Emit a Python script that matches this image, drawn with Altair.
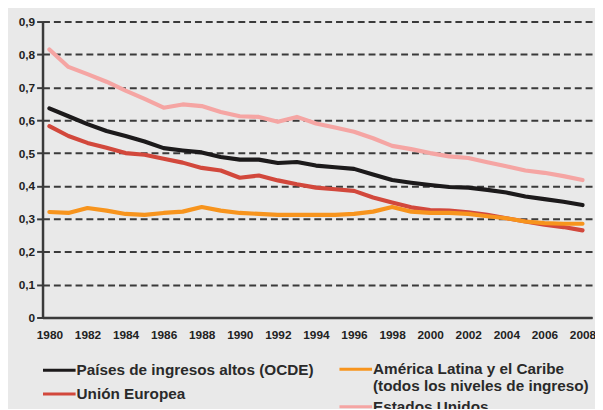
import altair as alt
import pandas as pd

years = list(range(1980, 2009))

ocde = [0.636, 0.612, 0.588, 0.567, 0.552, 0.535, 0.515, 0.508, 0.502, 0.488,
        0.480, 0.480, 0.470, 0.473, 0.462, 0.457, 0.452, 0.435, 0.418, 0.410,
        0.403, 0.397, 0.395, 0.388, 0.380, 0.368, 0.360, 0.352, 0.342]

ue = [0.582, 0.552, 0.531, 0.516, 0.500, 0.495, 0.483, 0.471, 0.455, 0.447,
      0.425, 0.432, 0.417, 0.405, 0.395, 0.390, 0.385, 0.365, 0.350, 0.335,
      0.327, 0.325, 0.320, 0.312, 0.302, 0.292, 0.282, 0.275, 0.265]

amlat = [0.321, 0.318, 0.333, 0.325, 0.315, 0.312, 0.318, 0.322, 0.336, 0.325,
         0.318, 0.315, 0.312, 0.312, 0.312, 0.312, 0.315, 0.322, 0.336, 0.322,
         0.318, 0.318, 0.315, 0.308, 0.302, 0.292, 0.287, 0.285, 0.285]

eeuu = [0.815, 0.762, 0.740, 0.717, 0.690, 0.665, 0.638, 0.648, 0.643, 0.625,
        0.612, 0.610, 0.595, 0.610, 0.590, 0.578, 0.565, 0.545, 0.522, 0.512,
        0.500, 0.490, 0.485, 0.472, 0.460, 0.447, 0.440, 0.430, 0.418]

# legend column 1
names_a = ["Países de ingresos altos (OCDE)", "Unión Europea"]
colors_a = ["#1c1a1b", "#d2483c"]
values_a = [ocde, ue]
# legend column 2
names_b = ["América Latina y el Caribe|(todos los niveles de ingreso)", "Estados Unidos"]
colors_b = ["#f7941d", "#f5a5a3"]
values_b = [amlat, eeuu]

x_ticks = list(range(1980, 2009, 2))
y_ticks = [0, 0.1, 0.2, 0.3, 0.4, 0.5, 0.6, 0.7, 0.8, 0.9]

FONT = "Liberation Sans"


def make_df(names, values):
    rows = []
    for name, vals in zip(names, values):
        for yr, v in zip(years, vals):
            rows.append({"year": yr, "value": v, "serie": name})
    return pd.DataFrame(rows)


x_enc = alt.X(
    "year:Q",
    scale=alt.Scale(domain=[1979.64, 2008.5], nice=False, zero=False),
    axis=alt.Axis(
        values=x_ticks, format="d", title=None, grid=False, ticks=False,
        labelPadding=12, labelFontSize=12, labelFontWeight="bold",
        labelColor="#222222", labelFont=FONT, labelFlush=False,
        domainColor="#3a3a3a", domainWidth=2.5,
    ),
)
y_enc = alt.Y(
    "value:Q",
    scale=alt.Scale(domain=[0, 0.9], nice=False),
    axis=alt.Axis(
        values=y_ticks, title=None, grid=True, gridDash=[7, 4],
        gridColor="#3a3a3a", gridWidth=2, tickSize=6, tickColor="#3a3a3a",
        tickWidth=2, domainColor="#3a3a3a", domainWidth=2.5,
        labelPadding=2, labelFontSize=12, labelFontWeight="bold",
        labelColor="#222222", labelFont=FONT,
        labelExpr="datum.value == 0 ? '0' : replace(format(datum.value, '.1f'), '.', ',')",
    ),
)


def legend(x, y, row_pad):
    return alt.Legend(
        title=None, orient="none", legendX=x, legendY=y, direction="vertical",
        symbolType="M-2.36,0H2.36", symbolSize=196, symbolStrokeWidth=3,
        labelFontSize=15.5, labelFontWeight="bold", labelFont=FONT,
        labelColor="#2a2a2a", labelLimit=0, rowPadding=row_pad, labelOffset=9,
        labelExpr="split(datum.label, '|')",
    )


layer_a = alt.Chart(make_df(names_a, values_a)).mark_line(
    strokeWidth=4.2, strokeJoin="round", strokeCap="round"
).encode(
    x=x_enc, y=y_enc,
    color=alt.Color("serie:N", sort=names_a,
                    scale=alt.Scale(domain=names_a, range=colors_a),
                    legend=legend(8.5, 345, 7)),
)

layer_b = alt.Chart(make_df(names_b, values_b)).mark_line(
    strokeWidth=4.2, strokeJoin="round", strokeCap="round"
).encode(
    x=x_enc, y=y_enc,
    color=alt.Color("serie:N", sort=names_b,
                    scale=alt.Scale(domain=names_b, range=colors_b),
                    legend=legend(309, 344, 3)),
)

chart = alt.layer(layer_a, layer_b).resolve_scale(color="independent").properties(
    width=557,
    height=300,
    background="#e9e9e9",
    padding={"left": 35, "top": 11, "right": 3, "bottom": 90},
    autosize=alt.AutoSizeParams(type="none"),
).configure_view(stroke=None)

chart.save("out.html", embed_options={"renderer": "svg", "actions": False})
